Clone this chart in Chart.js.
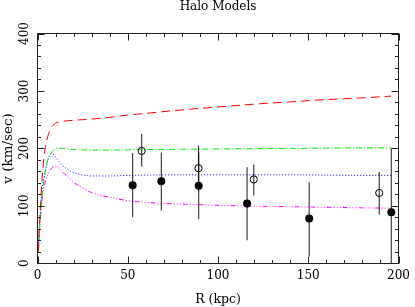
<!DOCTYPE html>
<html><head><meta charset="utf-8">
<script src="https://cdn.jsdelivr.net/npm/chart.js@4/dist/chart.umd.min.js"></script>
<style>html,body{margin:0;padding:0;background:#fff;overflow:hidden}canvas{display:block}</style>
</head><body>
<canvas id="c" width="415" height="307"></canvas>
<script>
const chartTitle = 'Halo Models';
const xTitle = 'R (kpc)';
const yTitle = 'v (km/sec)';
const xTickValues = [0, 50, 100, 150, 200];
const yTickValues = [0, 100, 200, 300, 400];
const xMinorStep = 10;
const yMinorStep = 20;

// model curves
const modelR   = [0.5, 1, 2, 3, 4, 5, 6, 7, 8, 9, 10, 12, 14, 16, 18, 20, 25, 30, 40, 50, 60, 80, 100, 120, 140, 160, 180, 196];
const redV     = [20, 60, 120, 165, 195, 212, 224, 232, 238, 241, 244, 246, 247, 248, 248.5, 249, 250, 251, 254, 258, 261, 267, 272, 277, 281, 285, 288, 291];
const greenV   = [20, 50, 95, 130, 155, 172, 182, 189, 194, 197, 199, 200, 200, 199, 198.5, 198, 197.5, 197, 197, 197.5, 198, 198.5, 199, 199.5, 200, 200.5, 201, 201];
const blueV    = [25, 60, 105, 138, 155, 170, 182, 190, 191, 189, 185, 177, 170, 165, 161, 158, 154, 152, 152, 153, 153.5, 154, 154, 154, 154, 153.5, 153, 153];
const magentaV = [25, 55, 95, 122, 138, 148, 156, 162, 166, 168, 168, 165, 158, 153, 147, 141, 131, 123, 115, 109, 106, 103, 101, 99.5, 98.5, 97.5, 96.5, 96];

// observations
const filledR  = [52.7, 68.6, 89.3, 116.1, 150.5, 196];
const filledV  = [136, 143, 135, 104, 78, 89];
const filledLo = [80, 92, 77, 40, 12, -22];
const filledHi = [192, 193, 193, 167, 141, 200];

const openR  = [57.7, 89.2, 119.8, 189.3];
const openV  = [195.6, 165.5, 146, 122.5];
const openLo = [168, 126, 118, 85];
const openHi = [225, 205, 172, 159];

const FONT = 'DejaVu Serif';
const pts = (xs, ys) => xs.map((x, i) => ({x, y: ys[i]}));

function curve(ys, color, dash) {
  return {data: pts(modelR, ys), borderColor: color, borderWidth: 1, borderDash: dash,
          pointRadius: 0, fill: false, cubicInterpolationMode: 'monotone', order: 2};
}
function errBars(xs, lo, hi) {
  return xs.map((x, i) => ({data: [{x, y: lo[i]}, {x, y: hi[i]}], borderColor: 'rgba(0,0,0,0.75)',
          borderWidth: 1.2, pointRadius: 0, fill: false, order: 1}));
}

const datasets = [
  curve(redV, '#ff0000', [9, 5]),
  curve(greenV, '#00ee00', [6, 2, 1, 2]),
  curve(blueV, '#0000ff', [1, 2]),
  curve(magentaV, '#ff00ff', [5, 2, 1, 2, 1, 2, 1, 2]),
  ...errBars(filledR, filledLo, filledHi),
  ...errBars(openR, openLo, openHi),
  {data: pts(filledR, filledV), showLine: false, pointRadius: 4, pointBackgroundColor: '#000',
   pointBorderColor: '#000', pointBorderWidth: 0, order: 0},
  {data: pts(openR, openV), showLine: false, pointRadius: 3.6, pointBackgroundColor: 'rgba(0,0,0,0)',
   pointBorderColor: '#000', pointBorderWidth: 1, order: 0}
];

const frameTicks = {
  id: 'frameTicks',
  afterDraw(chart) {
    const {ctx, chartArea: a, scales: {x, y}} = chart;
    ctx.save();
    ctx.strokeStyle = '#222';
    ctx.lineWidth = 1;
    const L = Math.floor(a.left) + 0.5, R = Math.floor(a.right) + 0.5;
    const T = Math.floor(a.top) + 0.5, B = Math.floor(a.bottom) + 0.5;
    ctx.strokeRect(L, T, R - L, B - T);
    ctx.beginPath();
    for (let v = x.min; v <= x.max + 1e-9; v += xMinorStep) {
      const px = Math.round(x.getPixelForValue(v)) + 0.5;
      const len = xTickValues.includes(v) ? 7 : 3.5;
      ctx.moveTo(px, B); ctx.lineTo(px, B - len);
      ctx.moveTo(px, T); ctx.lineTo(px, T + len);
    }
    for (let v = y.min; v <= y.max + 1e-9; v += yMinorStep) {
      const py = Math.round(y.getPixelForValue(v)) + 0.5;
      const len = yTickValues.includes(v) ? 7 : 3.5;
      ctx.moveTo(L, py); ctx.lineTo(L + len, py);
      ctx.moveTo(R, py); ctx.lineTo(R - len, py);
    }
    ctx.stroke();
    // title centred over the plot frame
    ctx.fillStyle = '#000';
    ctx.font = '12px "' + FONT + '"';
    ctx.textAlign = 'center';
    ctx.textBaseline = 'middle';
    ctx.fillText(chartTitle, (a.left + a.right) / 2, 7);
    ctx.restore();
  }
};

new Chart(document.getElementById('c'), {
  type: 'line',
  data: {datasets},
  options: {
    responsive: false, animation: false, devicePixelRatio: 1,
    layout: {padding: {left: 0, right: 11.5, top: 33.5, bottom: 0}},
    plugins: {
      legend: {display: false}, tooltip: {enabled: false}, title: {display: false}
    },
    scales: {
      x: {type: 'linear', min: 0, max: 200,
          afterBuildTicks: s => { s.ticks = xTickValues.map(v => ({value: v})); },
          afterFit: s => { s.height = 43.7; },
          grid: {display: false, drawTicks: false}, border: {display: false},
          ticks: {color: '#000', padding: 5, font: {family: FONT, size: 12}, maxRotation: 0},
          title: {display: true, text: xTitle, color: '#000', font: {family: FONT, size: 12.5}, padding: {top: 0, bottom: 0}}},
      y: {type: 'linear', min: 0, max: 400,
          afterBuildTicks: s => { s.ticks = yTickValues.map(v => ({value: v})); },
          afterFit: s => { s.width = 37.5; },
          grid: {display: false, drawTicks: false}, border: {display: false},
          ticks: {color: '#000', padding: 1, minRotation: 90, maxRotation: 90, crossAlign: 'center',
                  font: {family: FONT, size: 12}},
          title: {display: true, text: yTitle, color: '#000', font: {family: FONT, size: 13.5}, padding: {top: 0, bottom: 0}}}
    }
  },
  plugins: [frameTicks]
});
</script>
</body></html>
